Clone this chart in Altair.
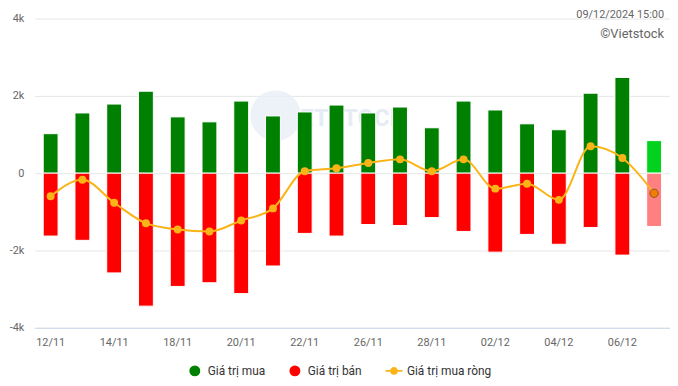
import altair as alt
import pandas as pd

dates = ["12/11", "13/11", "14/11", "15/11", "18/11", "19/11", "20/11", "21/11", "22/11", "25/11",
         "26/11", "27/11", "28/11", "29/11", "02/12", "03/12", "04/12", "05/12", "06/12", "09/12"]
buy = [1022, 1558, 1788, 2120, 1456, 1328, 1865, 1481, 1584, 1762,
       1558, 1711, 1175, 1865, 1635, 1277, 1124, 2069, 2478, 843]
sell = [-1627, -1737, -2580, -3440, -2930, -2835, -3116, -2401, -1558, -1627,
        -1328, -1354, -1149, -1507, -2043, -1584, -1839, -1405, -2120, -1379]
net = [-595, -170, -766, -1294, -1456, -1507, -1226, -911, 51, 128,
       263, 358, 51, 358, -400, -272, -690, 698, 392, -520]
tick_labels = ["12/11", "14/11", "18/11", "20/11", "22/11", "26/11", "28/11", "02/12", "04/12", "06/12"]
series_names = ["Giá trị mua", "Giá trị bán", "Giá trị mua ròng"]
series_colors = ["#008000", "#ff0000", "#fbb417"]
stamp = "09/12/2024 15:00"
credit = "©Vietstock"
watermark = "ETSTOCK"

last = dates[-1]
df = pd.DataFrame({"date": dates, "buy": buy, "sell": sell, "net": net})
legend_df = pd.DataFrame({"series": series_names, "date": [dates[0]] * 3, "net": [99999] * 3})
one = pd.DataFrame({"a": [0]})

FONT = "Roboto"
xenc = alt.X("date:N", sort=dates,
             scale=alt.Scale(domain=dates, paddingInner=0, paddingOuter=0),
             axis=alt.Axis(values=tick_labels, title=None, ticks=False, labelAngle=0,
                           labelPadding=9, labelFontSize=11, labelColor="#666666",
                           labelFont=FONT, domainColor="#ccd6eb", domainWidth=1, grid=False))
yscale = alt.Scale(domain=[-4000, 4000], nice=False)
yaxis = alt.Axis(values=[-4000, -2000, 0, 2000, 4000], title=None, ticks=False, domain=False,
                 labelPadding=11, labelFontSize=11, labelColor="#666666", labelFont=FONT,
                 gridColor="#e6e6e6", gridWidth=1,
                 labelExpr="datum.value == 0 ? '0' : (datum.value / 1000) + 'k'")

base = alt.Chart(df)

wm_circle = alt.Chart(one).mark_point(filled=True, size=2600, color="#e8eff7", opacity=0.8, shape="circle").encode(
    x=alt.value(243), y=alt.value(98))
wm_text = alt.Chart(one).mark_text(fontSize=24, fontWeight="bold", font=FONT, color="#e3eaf3",
                                   opacity=0.9, align="left", baseline="middle").encode(
    x=alt.value(268), y=alt.value(101), text=alt.value(watermark))

buy_bars = base.mark_bar(size=15, stroke="white", strokeWidth=1).encode(
    x=xenc,
    y=alt.Y("buy:Q", scale=yscale, axis=yaxis),
    color=alt.condition(alt.datum.date == last, alt.value("#00d21e"), alt.value("#008000")))
sell_bars = base.mark_bar(size=15, stroke="white", strokeWidth=1).encode(
    x=xenc,
    y=alt.Y("sell:Q", scale=yscale, axis=yaxis),
    color=alt.condition(alt.datum.date == last, alt.value("#ff8080"), alt.value("#ff0000")))

line = base.mark_line(interpolate="monotone", color="#fbb417", strokeWidth=2).encode(
    x=xenc, y=alt.Y("net:Q", scale=yscale, axis=yaxis))
pts = base.transform_filter(alt.datum.date != last).mark_point(
    filled=True, size=64, color="#fbb417", opacity=1, shape="circle").encode(
    x=xenc, y=alt.Y("net:Q", scale=yscale, axis=yaxis))
last_pt = base.transform_filter(alt.datum.date == last).mark_point(
    filled=True, size=70, fill="#f57c00", stroke="#8a5524", strokeWidth=1, opacity=1,
    shape="circle").encode(
    x=xenc, y=alt.Y("net:Q", scale=yscale, axis=yaxis))

net_path = ("M-1.55,-0.17H-0.6V0.17H-1.55Z M0.6,-0.17H1.55V0.17H0.6Z "
            "M0.72,0A0.72,0.72 0 1,1 -0.72,0A0.72,0.72 0 1,1 0.72,0Z")
legend = alt.Legend(title=None, orient="none", legendX=155.5, legendY=349.5, direction="horizontal",
                    columns=3, labelFontSize=12, labelColor="#333333", labelFont=FONT,
                    symbolSize=121, symbolStrokeWidth=0, labelOffset=7, columnPadding=23,
                    padding=0, symbolOpacity=1)
legend_layer = alt.Chart(legend_df).mark_point(filled=True, clip=True, strokeWidth=0).encode(
    x=xenc,
    y=alt.Y("net:Q", scale=yscale, axis=yaxis),
    color=alt.Color("series:N", scale=alt.Scale(domain=series_names, range=series_colors), legend=legend),
    shape=alt.Shape("series:N", scale=alt.Scale(domain=series_names, range=["circle", "circle", net_path]),
                    legend=legend))

stamp_txt = alt.Chart(one).mark_text(fontSize=11, font=FONT, color="#666666", align="right",
                                     baseline="middle").encode(
    x=alt.value(635), y=alt.value(-4), text=alt.value(stamp))
credit_txt = alt.Chart(one).mark_text(fontSize=13, font=FONT, color="#666666", align="right",
                                      baseline="middle").encode(
    x=alt.value(635), y=alt.value(16), text=alt.value(credit))

chart = alt.layer(wm_circle, wm_text, buy_bars, sell_bars, line, pts, last_pt, legend_layer,
                  stamp_txt, credit_txt).properties(
    width=641, height=312,
    background="white",
    autosize=alt.AutoSizeParams(type="none"),
    padding={"left": 27, "top": 9, "right": 0, "bottom": 49},
).configure_view(strokeWidth=0)

chart.save("out.html", embed_options={"renderer": "svg", "actions": False})
